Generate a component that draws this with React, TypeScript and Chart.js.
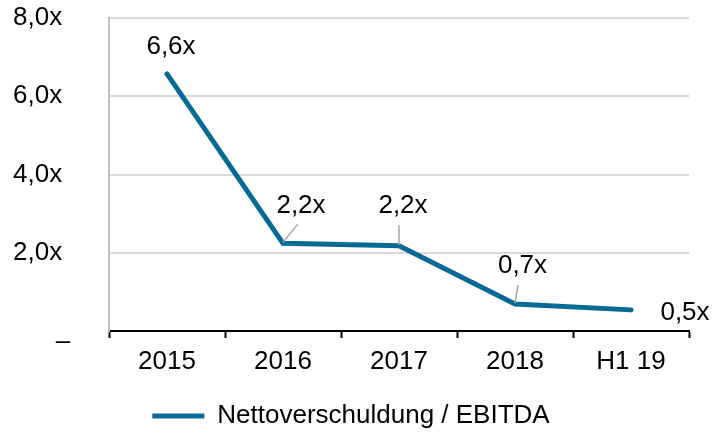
import React, { useEffect, useRef } from "react";
import { Chart, registerables } from "chart.js";

Chart.register(...registerables);

const categories = ["2015", "2016", "2017", "2018", "H1 19"];
const ratioValues = [6.57, 2.24, 2.18, 0.69, 0.54];
const seriesName = "Nettoverschuldung / EBITDA";
const yTickValues = [0, 2, 4, 6, 8];

const fmt = (v: number) => v.toFixed(1).replace(".", ",") + "x";

// label offsets relative to each point (dx, dy) and optional leader end (lx, ly)
const labelOffsets = [
  { dx: 4, dy: -27, leader: null as null | [number, number] },
  { dx: 18, dy: -38, leader: [14.5, -19] as [number, number] },
  { dx: 4, dy: -40, leader: [0, -20.5] as [number, number] },
  { dx: 7.5, dy: -38.5, leader: [3, -19] as [number, number] },
  { dx: 54, dy: 3, leader: null as null | [number, number] },
];

const FONT = "'Liberation Sans', Arial, sans-serif";
const FS = 26;
const LINE_COLOR = "#066A96";

const labelPlugin = {
  id: "customLabels",
  afterLayout(chart: any) {
    if (chart.legend) {
      chart.legend.top += 7;
      chart.legend.bottom += 7;
    }
  },
  afterDatasetsDraw(chart: any) {
    const ctx = chart.ctx;
    const meta = chart.getDatasetMeta(0);
    ctx.save();
    ctx.strokeStyle = "#a6a6a6";
    ctx.lineWidth = 1.5;
    meta.data.forEach((pt: any, i: number) => {
      const o = labelOffsets[i];
      if (o.leader) {
        ctx.beginPath();
        ctx.moveTo(pt.x, pt.y - 1);
        ctx.lineTo(pt.x + o.leader[0], pt.y + o.leader[1]);
        ctx.stroke();
      }
    });
    ctx.fillStyle = "#000";
    ctx.font = `${FS}px ${FONT}`;
    ctx.textAlign = "center";
    ctx.textBaseline = "middle";
    meta.data.forEach((pt: any, i: number) => {
      const o = labelOffsets[i];
      ctx.fillText(fmt(ratioValues[i]), pt.x + o.dx, pt.y + o.dy);
    });
    const yScale = chart.scales.y;
    const y0 = yScale.getPixelForValue(0);
    ctx.textAlign = "center";
    ctx.textBaseline = "alphabetic";
    ctx.fillText("\u2013", 63, y0 + 18);
    ctx.restore();
  },
};

export default function App() {
  const canvasRef = useRef<HTMLCanvasElement | null>(null);

  useEffect(() => {
    document.body.style.margin = "0";
    const canvas = canvasRef.current;
    if (!canvas) return;
    const chart = new Chart(canvas, {
      type: "line",
      data: {
        labels: categories,
        datasets: [
          {
            label: seriesName,
            data: ratioValues,
            borderColor: LINE_COLOR,
            backgroundColor: LINE_COLOR,
            borderWidth: 5,
            borderCapStyle: "round",
            pointRadius: 0,
            pointHoverRadius: 0,
            pointStyle: "line",
            tension: 0,
          },
        ],
      },
      options: {
        animation: false,
        responsive: false,
        maintainAspectRatio: false,
        layout: { padding: { left: 13, right: 25, top: 18, bottom: 0 } },
        scales: {
          x: {
            offset: true,
            grid: {
              offset: true,
              drawOnChartArea: false,
              drawTicks: true,
              tickLength: 7,
              tickWidth: 2,
              tickColor: "#000",
            },
            border: { color: "#000", width: 2 },
            ticks: {
              color: "#000",
              font: { family: FONT, size: FS },
              padding: 8,
              autoSkip: false,
              maxRotation: 0,
            },
            afterFit: (scale: any) => {
              scale.height = 55;
            },
          },
          y: {
            min: 0,
            max: 8,
            afterBuildTicks: (scale: any) => {
              scale.ticks = yTickValues.map((v) => ({ value: v }));
            },
            grid: { color: "#d9d9d9", lineWidth: 2, drawTicks: false },
            border: { color: "#bfbfbf", width: 2 },
            ticks: {
              color: "#000",
              font: { family: FONT, size: FS },
              padding: 0,
              crossAlign: "far",
              callback: (v: any) => (Number(v) === 0 ? "" : fmt(Number(v))),
            },
            afterFit: (scale: any) => {
              scale.width = 96;
            },
          },
        },
        plugins: {
          legend: {
            position: "bottom",
            labels: {
              usePointStyle: true,
              pointStyle: "line",
              pointStyleWidth: 52,
              color: "#000",
              font: { family: FONT, size: FS },
              padding: 10,
            },
          },
          tooltip: { enabled: false },
        },
      },
      plugins: [labelPlugin],
    } as any);
    return () => chart.destroy();
  }, []);

  return (
    <div style={{ position: "absolute", left: 0, top: 0, width: 714, height: 432 }}>
      <canvas ref={canvasRef} width={714} height={432} style={{ width: 714, height: 432, display: "block" }} />
    </div>
  );
}
